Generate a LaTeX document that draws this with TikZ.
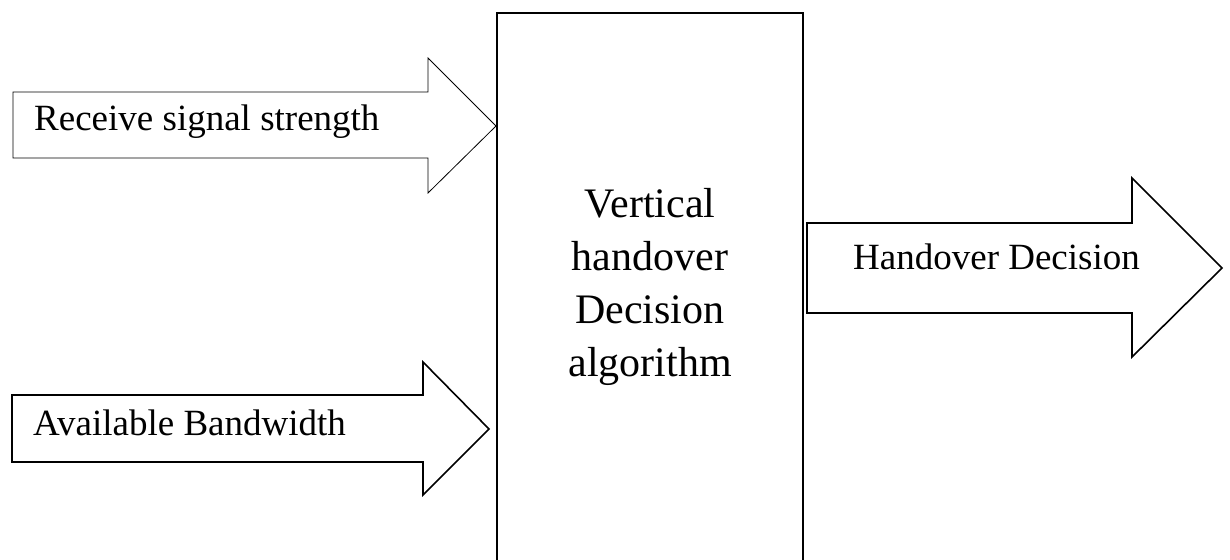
\documentclass[tikz,border=0pt]{standalone}
\usepackage{fontspec}
\setmainfont{Liberation Serif}

\begin{document}
\begin{tikzpicture}[x=1pt, y=-1pt,
  lbl/.style={anchor=base west, inner sep=0pt, font=\fontsize{37}{44}\selectfont}]
\useasboundingbox (0,0) rectangle (1230,559);
\clip (0,0) rectangle (1230,559);
% decision block, runs off the bottom
\draw[line width=2.6pt] (497,13) rectangle (803,620);
\node (alg) at (650,287) [align=center, inner sep=0pt,
  font=\fontsize{42}{53}\selectfont] {Vertical\\handover\\Decision\\algorithm};
% input arrows
\draw[line width=0.8pt] (13,92) -- (428,92) -- (428,58) -- (496,126)
  -- (428,193) -- (428,158) -- (13,158) -- cycle;
\node (rss) at (34,131) [lbl] {Receive signal strength};
\draw[line width=1.6pt] (12,395) -- (423,395) -- (423,362) -- (489,429)
  -- (423,495) -- (423,462) -- (12,462) -- cycle;
\node (bw) at (33,435) [lbl] {Available Bandwidth};
% output arrow
\draw[line width=1.6pt] (807,223) -- (1132,223) -- (1132,178) -- (1222,268)
  -- (1132,357) -- (1132,313) -- (807,313) -- cycle;
\node (hd) at (853,269) [lbl] {Handover Decision};
\end{tikzpicture}
\end{document}
